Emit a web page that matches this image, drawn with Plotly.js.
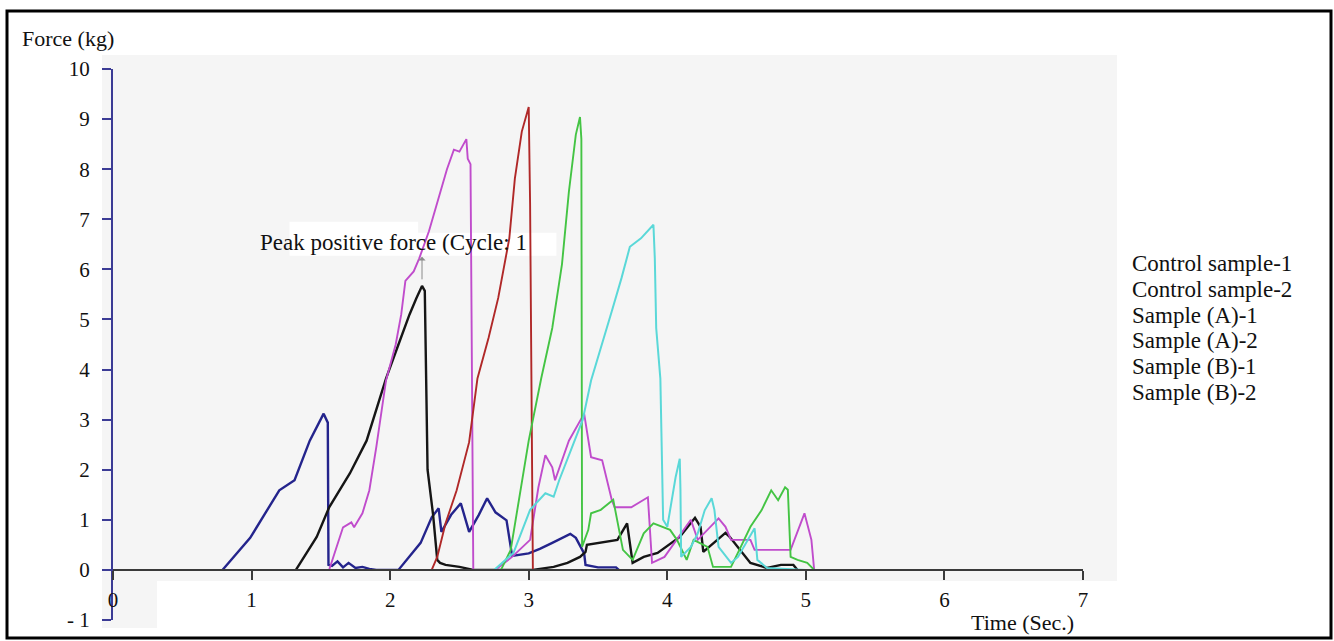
<!DOCTYPE html>
<html>
<head>
<meta charset="utf-8">
<script src="https://cdn.plot.ly/plotly-3.0.1.min.js"></script>
<style>
html,body{margin:0;padding:0;background:#ffffff;}
#chart{width:1334px;height:641px;}
</style>
</head>
<body>
<div id="chart"></div>
<script>
// ---------- data ----------
const seriesNames = ['Control sample-1','Control sample-2','Sample (A)-1','Sample (A)-2','Sample (B)-1','Sample (B)-2'];

const timeC1  = [0.79,0.99,1.20,1.31,1.42,1.52,1.55,1.555,1.58,1.62,1.66,1.70,1.75,1.80,1.85,1.90,2.06,2.22,2.30,2.35,2.37,2.44,2.51,2.57,2.64,2.70,2.76,2.84,2.87,2.88,3.00,3.08,3.17,3.30,3.34,3.40,3.41,3.50,3.63,3.65];
const forceC1 = [0,0.64,1.59,1.79,2.58,3.12,2.94,0.10,0.08,0.17,0.05,0.14,0.04,0.06,0.02,0,0,0.54,1.05,1.23,0.76,1.10,1.33,0.76,1.10,1.43,1.15,0.99,0.46,0.28,0.33,0.42,0.54,0.72,0.64,0.33,0.10,0.05,0.05,0];

const timeC2  = [1.32,1.47,1.56,1.71,1.83,1.92,1.97,2.06,2.14,2.19,2.23,2.25,2.26,2.27,2.31,2.34,2.36,2.40,2.50,2.60,2.80,3.03,3.18,3.28,3.37,3.41,3.42,3.52,3.64,3.71,3.75,3.83,3.93,4.09,4.20,4.24,4.26,4.42,4.45,4.60,4.72,4.82,4.91,4.94];
const forceC2 = [0,0.66,1.25,1.93,2.58,3.38,3.82,4.50,5.10,5.43,5.67,5.57,3.50,2.00,1.10,0.20,0.14,0.10,0.06,0,0,0,0.06,0.14,0.26,0.36,0.50,0.54,0.60,0.93,0.14,0.26,0.34,0.66,1.04,0.86,0.36,0.74,0.66,0.14,0.04,0.10,0.10,0];

const timeA1  = [1.32,1.56,1.66,1.72,1.74,1.80,1.85,1.90,1.97,2.04,2.08,2.11,2.17,2.21,2.28,2.35,2.41,2.46,2.50,2.52,2.55,2.56,2.58,2.60,2.76,2.88,3.01,3.07,3.12,3.17,3.19,3.29,3.40,3.45,3.53,3.60,3.62,3.74,3.86,3.89,3.98,4.17,4.22,4.37,4.42,4.46,4.60,4.63,4.89,4.99,5.04,5.06];
const forceA1 = [0,0,0.85,0.95,0.85,1.13,1.59,2.45,3.78,4.50,5.10,5.77,5.96,6.22,6.76,7.42,8.00,8.39,8.35,8.45,8.60,8.21,8.10,0,0,0.26,0.60,1.65,2.29,2.05,1.79,2.58,3.12,2.25,2.19,1.39,1.25,1.25,1.45,0.14,0.26,1.00,0.60,1.03,0.86,0.60,0.60,0.40,0.40,1.13,0.60,0];

const timeA2  = [2.30,2.34,2.40,2.48,2.57,2.63,2.71,2.78,2.86,2.90,2.95,3.00,3.01,3.02,3.03,4.65];
const forceA2 = [0,0.26,0.93,1.59,2.55,3.82,4.63,5.43,6.62,7.81,8.75,9.24,7.30,3.00,0,0];

const timeB1  = [2.80,2.87,3.00,3.09,3.17,3.24,3.29,3.34,3.37,3.38,3.385,3.43,3.45,3.52,3.61,3.66,3.68,3.75,3.83,3.90,4.02,4.07,4.14,4.19,4.29,4.33,4.46,4.52,4.60,4.68,4.75,4.80,4.85,4.87,4.89,4.94,5.01,5.06];
const forceB1 = [0,0.40,2.58,3.82,4.83,6.10,7.55,8.69,9.04,8.60,0.46,0.80,1.13,1.20,1.40,0.73,0.40,0.20,0.73,0.93,0.80,0.60,0.20,0.60,0.46,0.06,0.06,0.40,0.86,1.19,1.59,1.39,1.65,1.60,0.26,0.20,0.14,0];

const timeB2  = [1.56,2.75,2.89,3.01,3.12,3.18,3.22,3.31,3.39,3.45,3.53,3.60,3.67,3.73,3.81,3.90,3.91,3.92,3.95,3.96,3.97,4.00,4.06,4.09,4.095,4.10,4.17,4.22,4.27,4.32,4.34,4.37,4.46,4.51,4.63,4.65,4.72,5.00];
const forceB2 = [0,0,0.34,1.20,1.53,1.46,1.79,2.45,3.00,3.78,4.50,5.17,5.83,6.45,6.62,6.89,6.22,4.83,3.82,2.13,1.00,0.86,1.85,2.22,1.60,0.26,0.46,0.73,1.19,1.43,1.20,0.46,0.14,0.26,0.83,0.20,0.04,0];

const xTickVals = [0,1,2,3,4,5,6,7];
const xTickText = ['0','1','2','3','4','5','6','7'];
const yTickVals = [-1,0,1,2,3,4,5,6,7,8,9,10];
const yTickText = ['- 1','0','1','2','3','4','5','6','7','8','9','10'];

const peakLabel  = 'Peak positive force (Cycle: 1';
const xAxisLabel = 'Time (Sec.)';
const yAxisLabel = 'Force (kg)';

// ---------- traces ----------
const seriesX = [timeC1, timeC2, timeA1, timeA2, timeB1, timeB2];
const seriesY = [forceC1, forceC2, forceA1, forceA2, forceB1, forceB2];
const seriesColors = ['#24248c','#151515','#c04ccc','#b02828','#44c444','#5ad8d8'];
const seriesWidths = [2.4,2.4,1.9,1.9,1.9,2.0];

const traces = seriesNames.map((name,i)=>({
  type:'scatter', mode:'lines', name:name,
  x: seriesX[i], y: seriesY[i],
  line:{color:seriesColors[i], width:seriesWidths[i]},
  hoverinfo:'skip', showlegend:false
}));

// ---------- annotations (paper coords: x=(px-113)/970, y=(620-py)/551) ----------
const FONT = 'Liberation Serif, Times New Roman, serif';
const annotations = [];
const legendPx = [263,289,315,340,366,392];
seriesNames.forEach((name,i)=>{
  annotations.push({xref:'paper', yref:'paper', x:(1130-113)/970, y:(620-legendPx[i])/551, text:name,
    showarrow:false, xanchor:'left', yanchor:'middle', font:{family:FONT, size:23, color:'#111'}});
});
annotations.push({xref:'x', yref:'y', x:1.047, y:6.53, text:peakLabel, showarrow:false,
  xanchor:'left', yanchor:'middle', font:{family:FONT, size:23, color:'#111'}});
annotations.push({xref:'x', yref:'y', x:2.23, y:6.25, ax:0, ay:24, text:'', showarrow:true,
  arrowhead:1, arrowsize:1.2, arrowwidth:1, arrowcolor:'#8a8a8a'});
annotations.push({xref:'paper', yref:'paper', x:(1022-113)/970, y:(620-622)/551, text:xAxisLabel, showarrow:false,
  xanchor:'center', yanchor:'middle', font:{family:FONT, size:22, color:'#111'}});
annotations.push({xref:'paper', yref:'paper', x:(20-113)/970, y:(620-39)/551, text:yAxisLabel, showarrow:false,
  xanchor:'left', yanchor:'middle', font:{family:FONT, size:22, color:'#111'}});

// ---------- decoration shapes ----------
const shapes = [
  {type:'rect', xref:'paper', yref:'paper', x0:-0.0113, x1:1.035, y0:-0.0145, y1:1.0254,
   fillcolor:'#f5f5f5', line:{width:0}, layer:'below'},
  {type:'rect', xref:'paper', yref:'paper', x0:0.0454, x1:1.035, y0:-0.0145, y1:0.0708,
   fillcolor:'#ffffff', line:{width:0}, layer:'below'},
  {type:'rect', xref:'x', yref:'y', x0:1.274, x1:2.202, y0:6.27, y1:6.95,
   fillcolor:'#ffffff', line:{width:0}, layer:'below'},
  {type:'rect', xref:'x', yref:'y', x0:2.202, x1:3.2, y0:6.27, y1:6.73,
   fillcolor:'#ffffff', line:{width:0}, layer:'below'},
  {type:'rect', xref:'paper', yref:'paper', x0:(7-113)/970, x1:(1331-113)/970,
   y0:(620-638)/551, y1:(620-11)/551, fillcolor:'rgba(0,0,0,0)', line:{color:'#000', width:3}, layer:'above'}
];

const layout = {
  width:1334, height:641,
  margin:{l:113, r:251, t:69, b:21},
  paper_bgcolor:'#ffffff', plot_bgcolor:'rgba(0,0,0,0)',
  showlegend:false,
  font:{family:FONT, size:20, color:'#111'},
  xaxis:{range:[0,7], anchor:'free', position:1/11, showline:true, linecolor:'#3a3a3a', linewidth:2,
    ticks:'outside', ticklen:9, tickwidth:2, tickcolor:'#3a3a3a',
    tickmode:'array', tickvals:xTickVals, ticktext:xTickText, ticklabelstandoff:2,
    showgrid:false, zeroline:false, tickfont:{family:FONT, size:21, color:'#111'}, fixedrange:true},
  yaxis:{range:[-1,10], showline:true, linecolor:'#3b3b95', linewidth:2,
    ticks:'outside', ticklen:9, tickwidth:2, tickcolor:'#3b3b95',
    tickmode:'array', tickvals:yTickVals, ticktext:yTickText, ticklabelstandoff:8,
    showgrid:false, zeroline:false, tickfont:{family:FONT, size:21, color:'#111'}, fixedrange:true},
  annotations:annotations,
  shapes:shapes
};

Plotly.newPlot('chart', traces, layout, {displayModeBar:false, staticPlot:true});
</script>
</body>
</html>
